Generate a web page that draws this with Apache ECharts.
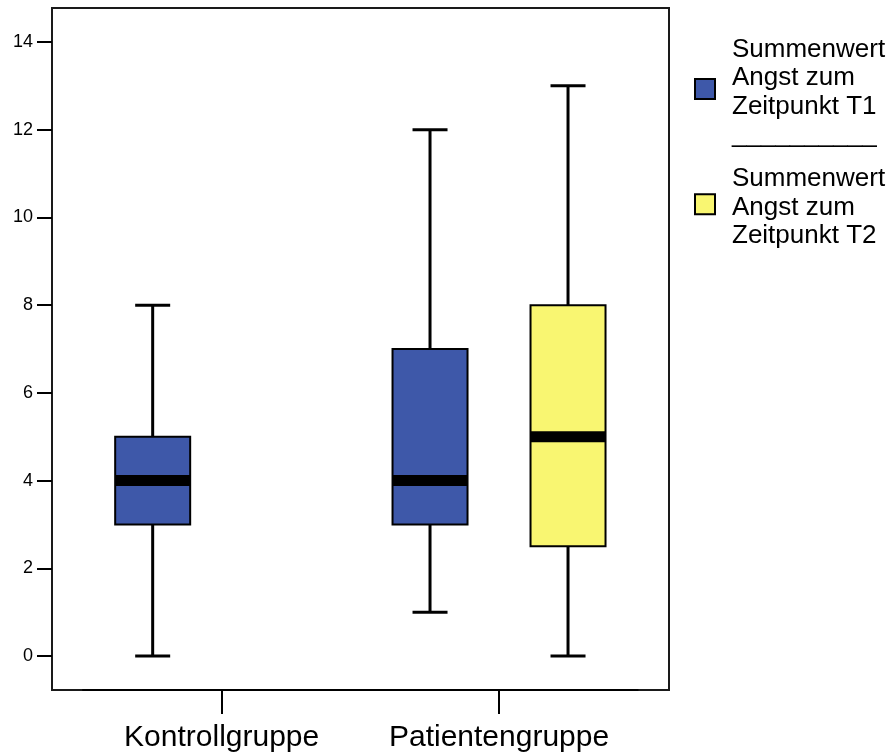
<!DOCTYPE html>
<html>
<head>
<meta charset="utf-8">
<script src="https://cdn.jsdelivr.net/npm/echarts@6/dist/echarts.min.js"></script>
<style>
  html, body { margin: 0; padding: 0; background: #fff; }
  #chart { width: 892px; height: 756px; }
</style>
</head>
<body>
<div id="chart"></div>
<script>
// Groups on the x axis
const groups = ['Kontrollgruppe', 'Patientengruppe'];

// Series names (legend labels)
const nameT1 = 'Summenwert\nAngst zum\nZeitpunkt T1';
const nameT2 = 'Summenwert\nAngst zum\nZeitpunkt T2';

// Five-number summaries: [min, Q1, median, Q3, max]
const t1Kontroll = [0, 3, 4, 5, 8];
const t1Patienten = [1, 3, 4, 7, 12];
const t2Patienten = [0, 2.5, 5, 8, 13];

// Value axis ticks
const yMin = 0;
const yMax = 14;
const yStep = 2;

const FONT = "'Liberation Sans', Arial, Helvetica, sans-serif";
const BLUE = '#3E58A9';
const YELLOW = '#F9F671';

// Rows for the custom series: [groupIndex, min, q1, median, q3, max]
const t1Rows = [[0].concat(t1Kontroll), [1].concat(t1Patienten)];
const t2Rows = [[1].concat(t2Patienten)];

// Draws one box with whiskers, shifted sideways from the group centre
function boxRenderer(shift, fill) {
  return function (params, api) {
    const c = api.value(0);
    const pts = [1, 2, 3, 4, 5].map(function (i) { return api.coord([c, api.value(i)]); });
    const x = pts[0][0] + shift;
    const yLo = pts[0][1], yQ1 = pts[1][1], yMed = pts[2][1], yQ3 = pts[3][1], yHi = pts[4][1];
    const halfBox = 37.5, halfCap = 17.5;
    const ink = '#000';
    return {
      type: 'group',
      children: [
        { type: 'line', shape: { x1: x, y1: yHi, x2: x, y2: yLo }, style: { stroke: ink, lineWidth: 3 } },
        { type: 'line', shape: { x1: x - halfCap, y1: yHi, x2: x + halfCap, y2: yHi }, style: { stroke: ink, lineWidth: 3 } },
        { type: 'line', shape: { x1: x - halfCap, y1: yLo, x2: x + halfCap, y2: yLo }, style: { stroke: ink, lineWidth: 3 } },
        { type: 'rect', shape: { x: x - halfBox, y: yQ3, width: 2 * halfBox, height: yQ1 - yQ3 }, style: { fill: fill, stroke: ink, lineWidth: 2 } },
        { type: 'rect', shape: { x: x - halfBox, y: yMed - 5.5, width: 2 * halfBox, height: 11 }, style: { fill: ink } }
      ]
    };
  };
}

// Legend label: a thin spacer line on top, then the name line by line (optional rule below)
function legendLabel(name, withRule) {
  const lines = name.split('\n');
  if (withRule) lines.push('__________');
  return '{p|}\n' + lines.map(function (l) { return '{t|' + l + '}'; }).join('\n');
}

const legendText = {
  fontFamily: FONT, fontSize: 26, color: '#000', padding: [0, 0, 0, 12],
  rich: {
    p: { fontSize: 1, lineHeight: 6.5 },
    t: { fontFamily: FONT, fontSize: 26, lineHeight: 28.5, color: '#000' }
  }
};

const chart = echarts.init(document.getElementById('chart'), null, { renderer: 'canvas' });

chart.setOption({
  animation: false,
  backgroundColor: '#fff',
  textStyle: { fontFamily: FONT, color: '#000' },
  grid: [
    // outer frame
    { left: 52, top: 8, width: 617, height: 682, show: true, borderColor: '#1a1a1a', borderWidth: 2, backgroundColor: '#fff' },
    // plotting area
    { left: 83, top: 42, width: 554.7, height: 614 }
  ],
  xAxis: [
    { gridIndex: 0, type: 'value', show: false },
    {
      gridIndex: 1,
      type: 'category',
      data: groups,
      offset: 34,
      axisLine: { show: true, onZero: false, lineStyle: { color: '#000', width: 2 } },
      axisTick: { show: true, alignWithLabel: true, length: 24, lineStyle: { color: '#000', width: 2 } },
      axisLabel: { fontFamily: FONT, fontSize: 30, color: '#000', margin: 33, interval: 0 },
      splitLine: { show: false }
    }
  ],
  yAxis: [
    { gridIndex: 0, type: 'value', show: false },
    {
      gridIndex: 1,
      type: 'value',
      min: yMin,
      max: yMax,
      interval: yStep,
      offset: 31,
      axisLine: { show: false, onZero: false },
      axisTick: { show: true, length: 15, lineStyle: { color: '#000', width: 2 } },
      axisLabel: { fontFamily: FONT, fontSize: 18, color: '#000', margin: 19 },
      splitLine: { show: false }
    }
  ],
  legend: [
    {
      data: [nameT1],
      orient: 'vertical',
      left: 694,
      top: 31.5,
      padding: 0,
      icon: 'rect',
      itemWidth: 20,
      itemHeight: 20,
      selectedMode: false,
      itemStyle: { borderColor: '#000', borderWidth: 2 },
      formatter: function (n) { return legendLabel(n, true); },
      textStyle: legendText
    },
    {
      data: [nameT2],
      orient: 'vertical',
      left: 694,
      top: 161,
      padding: 0,
      icon: 'rect',
      itemWidth: 20,
      itemHeight: 20,
      selectedMode: false,
      itemStyle: { borderColor: '#000', borderWidth: 2 },
      formatter: function (n) { return legendLabel(n, false); },
      textStyle: legendText
    }
  ],
  series: [
    {
      name: nameT1,
      type: 'custom',
      xAxisIndex: 1,
      yAxisIndex: 1,
      clip: false,
      itemStyle: { color: BLUE },
      renderItem: boxRenderer(-69, BLUE),
      encode: { x: 0, y: [1, 2, 3, 4, 5] },
      data: t1Rows
    },
    {
      name: nameT2,
      type: 'custom',
      xAxisIndex: 1,
      yAxisIndex: 1,
      clip: false,
      itemStyle: { color: YELLOW },
      renderItem: boxRenderer(69, YELLOW),
      encode: { x: 0, y: [1, 2, 3, 4, 5] },
      data: t2Rows
    }
  ]
});
</script>
</body>
</html>
